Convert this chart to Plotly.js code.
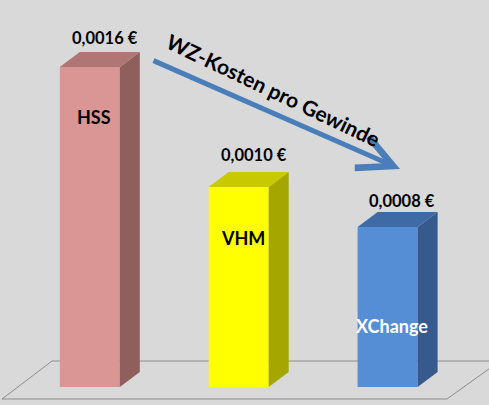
<!DOCTYPE html>
<html><head><meta charset="utf-8">
<script src="https://cdn.plot.ly/plotly-3.0.1.min.js"></script>
<style>html,body{margin:0;padding:0;background:#d9d9d9;}#chart{width:489px;height:405px;}</style>
</head><body><div id="chart"></div>
<script>
const categories = ['HSS', 'VHM', 'XChange'];
const values = [0.0016, 0.0010, 0.0008];
const valueLabels = ['0,0016 €', '0,0010 €', '0,0008 €'];
const frontColors = ['#d99694', '#ffff00', '#558ed5'];
const sideColors = ['#8f5f5e', '#a6a600', '#365a8b'];
const topColors = ['#b07675', '#c9c900', '#3e6ba6'];
const nameColors = ['#000000', '#000000', '#ffffff'];
const title = 'WZ-Kosten pro Gewinde';

const pxX = 148.9, x0px = 89.8, pxY = 200000, baseY = 387;
const W = 0.403, DX = 20 / pxX, DY = 15 / pxY;
const xs = categories.map((c, i) => i);

const traces = [];
// front faces
traces.push({type: 'bar', x: xs, y: values, width: W, marker: {color: frontColors, line: {width: 0}}, hoverinfo: 'skip'});
// side and top faces
xs.forEach((x, i) => {
  const v = values[i], r = x + W / 2, l = x - W / 2;
  traces.push({type: 'scatter', mode: 'lines', fill: 'toself', fillcolor: sideColors[i], line: {width: 0}, hoverinfo: 'skip',
    x: [r, r + DX, r + DX, r, r], y: [0, DY, v + DY, v, 0]});
  traces.push({type: 'scatter', mode: 'lines', fill: 'toself', fillcolor: topColors[i], line: {width: 0}, hoverinfo: 'skip',
    x: [l, l + DX, r + DX, r, l], y: [v, v + DY, v + DY, v, v]});
});

const X = p => (p - x0px) / pxX;
const Y = p => (baseY - p) / pxY;
const font = 'Lato, "Open Sans", sans-serif';

const annotations = [];
const nameShift = [-50, -51, -99];
const labelShift = [2, 5, -1];
xs.forEach((x, i) => {
  annotations.push({x: x + 0.1, y: values[i] + DY, xref: 'x', yref: 'y', text: '<b>' + valueLabels[i] + '</b>',
    showarrow: false, yanchor: 'bottom', yshift: labelShift[i], font: {family: font, size: 16.5, color: '#000'}});
  annotations.push({x: x + 0.03, y: values[i], xref: 'x', yref: 'y', text: '<b>' + categories[i] + '</b>',
    showarrow: false, yanchor: 'middle', yshift: nameShift[i], font: {family: font, size: 18, color: nameColors[i]}});
});
annotations.push({x: X(400), y: Y(169), ax: X(152), ay: Y(60), xref: 'x', yref: 'y', axref: 'x', ayref: 'y',
  text: '', showarrow: true, arrowhead: 5, arrowwidth: 5, arrowsize: 1.35, arrowcolor: '#4a7ebb', standoff: 0});
annotations.push({x: X(273), y: Y(89), xref: 'x', yref: 'y', text: '<b>' + title + '</b>', showarrow: false,
  textangle: 25.5, font: {family: font, size: 21, color: '#000'}});

const layout = {
  width: 489, height: 405, margin: {l: 0, r: 0, t: 0, b: 0},
  paper_bgcolor: '#d9d9d9', plot_bgcolor: '#d9d9d9', showlegend: false,
  xaxis: {range: [X(0), X(489)], visible: false, fixedrange: true},
  yaxis: {range: [Y(405), Y(0)], visible: false, fixedrange: true},
  shapes: [{type: 'path', xref: 'x', yref: 'y', layer: 'below', line: {color: '#8c8c8c', width: 1},
    path: 'M' + X(52) + ',' + Y(361) + 'L' + X(500) + ',' + Y(361) + 'L' + X(447) + ',' + Y(399) + 'L' + X(2) + ',' + Y(399) + 'Z'}],
  annotations: annotations
};
Plotly.newPlot('chart', traces, layout, {staticPlot: true, displayModeBar: false});
</script></body></html>
